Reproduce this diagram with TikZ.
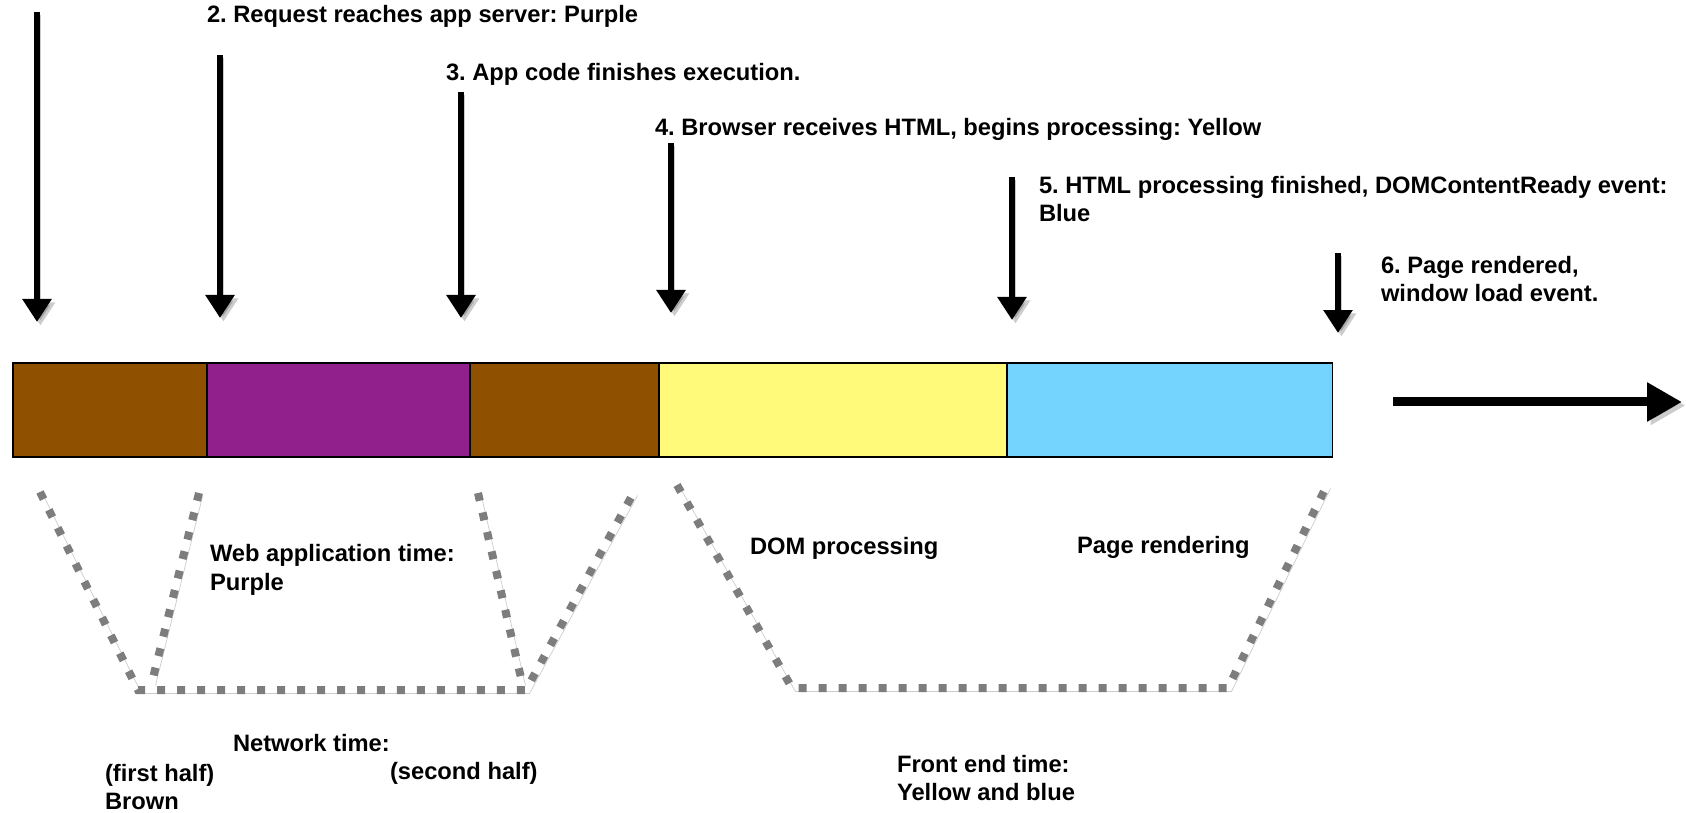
\documentclass[tikz,border=0pt]{standalone}
\usepackage{fontspec}
\setmainfont{Liberation Sans}
\usetikzlibrary{positioning,arrows.meta}
\definecolor{netbrown}{RGB}{143,81,0}
\definecolor{apppurple}{RGB}{145,32,140}
\definecolor{domyellow}{RGB}{255,250,122}
\definecolor{renderblue}{RGB}{117,212,253}
\definecolor{dotgray}{RGB}{125,125,125}
\frenchspacing
\tikzset{
  softshadow/.style={preaction={draw=black, opacity=0.2,
      transform canvas={shift={(0.07cm,-0.07cm)}}}},
}
\begin{document}
\begin{tikzpicture}[x=0.02cm, y=-0.02cm,
  every node/.style={inner sep=0pt, outer sep=0pt,
    font=\fontsize{13.5}{16.2}\selectfont\bfseries},
  seg/.style={draw=black, line width=0.8pt, minimum height=1.88cm},
  txt/.style={anchor=west, align=left},
  event/.style={softshadow, line width=0.13cm,
    -{Triangle[length=0.46cm, width=0.56cm]}},
  dotline/.style={softshadow, dotgray, line width=0.16cm,
    dash pattern=on 0.16cm off 0.24cm}]
  \useasboundingbox (0,0) rectangle (1686,813);

  % the time bar:
  \node [seg, fill=netbrown, minimum width=3.88cm, anchor=west] (net1) at (13,410) {};
  \node [seg, fill=apppurple, minimum width=5.26cm, right=0pt of net1] (app) {};
  \node [seg, fill=netbrown, minimum width=3.78cm, right=0pt of app] (net2) {};
  \node [seg, fill=domyellow, minimum width=6.96cm, right=0pt of net2] (dom) {};
  \node [seg, fill=renderblue, minimum width=6.52cm, right=0pt of dom] (render) {};

  % events:
  \coordinate (s1) at (37,12);    \coordinate (e1) at (37,322);
  \coordinate (s2) at (220,55);   \coordinate (e2) at (220,318);
  \coordinate (s3) at (461,92);   \coordinate (e3) at (461,318);
  \coordinate (s4) at (671,143);  \coordinate (e4) at (671,313);
  \coordinate (s5) at (1012,177); \coordinate (e5) at (1012,320);
  \coordinate (s6) at (1338,253); \coordinate (e6) at (1338,333);
  \draw [event] (s1) -- (e1);
  \draw [event] (s2) -- (e2);
  \draw [event] (s3) -- (e3);
  \draw [event] (s4) -- (e4);
  \draw [event] (s5) -- (e5);
  \draw [event] (s6) -- (e6);

  \node [txt] (ev2) at (207,16) {2. Request reaches app server: Purple};
  \node [txt] (ev3) at (446,74) {3. App code finishes execution.};
  \node [txt] (ev4) at (655,129) {4. Browser receives HTML, begins processing: Yellow};
  \node [txt] (ev5) at (1039,199) {5. HTML processing finished, DOMContentReady event:\\Blue};
  \node [txt] (ev6) at (1381,279) {6. Page rendered,\\window load event.};

  % time goes on:
  \coordinate (t0) at (1393,402);
  \coordinate (t1) at (1682,402);
  \draw [softshadow, line width=0.18cm, -{Triangle[length=0.7cm, width=0.74cm]}] (t0) -- (t1);

  % network and app brackets:
  \coordinate (na) at (40,492);  \coordinate (nb) at (138,690);
  \coordinate (nc) at (526,690); \coordinate (nd) at (634,492);
  \draw [dotline] (na) -- (nb) -- (nc) -- (nd);
  \coordinate (ni) at (199,493); \coordinate (nj) at (152,682);
  \coordinate (nk) at (478,493); \coordinate (nl) at (522,682);
  \draw [dotline] (ni) -- (nj);
  \draw [dotline] (nk) -- (nl);

  % front end bracket:
  \coordinate (fa) at (677,485);  \coordinate (fb) at (792,688);
  \coordinate (fc) at (1228,688); \coordinate (fd) at (1327,485);
  \draw [dotline] (fa) -- (fb) -- (fc) -- (fd);

  \node [txt] (apptxt) at (210,570) {Web application time:\\Purple};
  \node [txt] (domtxt) at (750,548) {DOM processing};
  \node [txt] (rendertxt) at (1077,547) {Page rendering};
  \node [txt] (nettxt) at (233,743) {Network time:};
  \node [txt] (firsttxt) at (105,787) {(first half)\\Brown};
  \node [txt] (secondtxt) at (390,773) {(second half)};
  \node [txt] (fronttxt) at (897,778) {Front end time:\\Yellow and blue};
\end{tikzpicture}
\end{document}
